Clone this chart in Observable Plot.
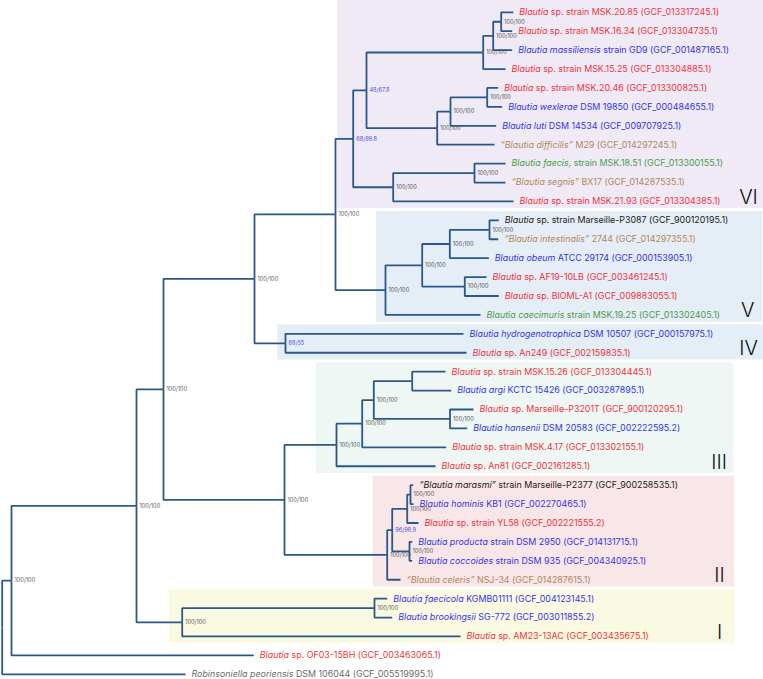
<!DOCTYPE html>
<html><head><meta charset="utf-8">
<script src="https://cdn.jsdelivr.net/npm/d3@7"></script>
<script src="https://cdn.jsdelivr.net/npm/@observablehq/plot@0.6"></script>
<style>body{margin:0;background:#fff}</style>
</head><body><div id="chart"></div>
<script>
// ---- internal nodes of the tree (depth = horizontal position along the tree) ----
const nodeIds     = ["root","K","J","I","H","G","F","C","A","A1",
                     "A2","B","B1","B2","E","D","Y","Z","AA","AB",
                     "AC","IVn","L","M","N","O","P","Q","R","S",
                     "T","Vn","U","W","X"];
const nodeParents = [null,"root","K","J","I","H","G","F","C","A",
                     "A1","C","B","B1","F","E","G","Y","Z","AA",
                     "Z","H","I","L","M","N","O","O","L","R",
                     "S","T","S","J","W"];
const nodeDepths  = [1.7,11,136,163,254,335,352.7,366,482.7,492.7,
                     500.7,436.7,450,486.7,392.7,474,385,421.7,449.3,489,
                     464.3,285,284,336,361.7,373.3,411.7,449.5,386.7,391.7,
                     406.7,410,409,181.7,374];
const nodeSupport = ["","100/100","100/100","100/100","100/100","100/100","68/99.8","48/67.8","100/100","100/100",
                     "100/100","100/100","100/100","100/100","100/100","100/100","100/100","100/100","100/100","100/100",
                     "100/100","68/55","100/100","100/100","100/100","100/100","","100/100","100/100","96/98.9",
                     "100/100","100/100","100/100","100/100","100/100"];

// ---- leaves (top to bottom) ----
const leafNames = [
  "*Blautia* sp. strain MSK.20.85 (GCF_013317245.1)",
  "*Blautia* sp. strain MSK.16.34 (GCF_013304735.1)",
  "*Blautia massiliensis* strain GD9 (GCF_001487165.1)",
  "*Blautia* sp. strain MSK.15.25 (GCF_013304885.1)",
  "*Blautia* sp. strain MSK.20.46 (GCF_013300825.1)",
  "*Blautia wexlerae* DSM 19850 (GCF_000484655.1)",
  "*Blautia luti* DSM 14534 (GCF_009707925.1)",
  "*“Blautia difficilis”* M29 (GCF_014297245.1)",
  "*Blautia faecis,* strain MSK.18.51 (GCF_013300155.1)",
  "*“Blautia segnis”* BX17 (GCF_014287535.1)",
  "*Blautia* sp. strain MSK.21.93 (GCF_013304385.1)",
  "*Blautia* sp. strain Marseille-P3087 (GCF_900120195.1)",
  "*“Blautia intestinalis”* 2744 (GCF_014297355.1)",
  "*Blautia obeum* ATCC 29174 (GCF_000153905.1)",
  "*Blautia* sp. AF19-10LB (GCF_003461245.1)",
  "*Blautia* sp. BIOML-A1 (GCF_009883055.1)",
  "*Blautia caecimuris* strain MSK.19.25 (GCF_013302405.1)",
  "*Blautia hydrogenotrophica* DSM 10507 (GCF_000157975.1)",
  "*Blautia* sp. An249 (GCF_002159835.1)",
  "*Blautia* sp. strain MSK.15.26 (GCF_013304445.1)",
  "*Blautia argi* KCTC 15426 (GCF_003287895.1)",
  "*Blautia* sp. Marseille-P3201T (GCF_900120295.1)",
  "*Blautia hansenii* DSM 20583 (GCF_002222595.2)",
  "*Blautia* sp. strain MSK.4.17 (GCF_013302155.1)",
  "*Blautia* sp. An81 (GCF_002161285.1)",
  "*“Blautia marasmi”* strain Marseille-P2377 (GCF_900258535.1)",
  "*Blautia hominis* KB1 (GCF_002270465.1)",
  "*Blautia* sp. strain YL58 (GCF_002221555.2)",
  "*Blautia producta* strain DSM 2950 (GCF_014131715.1)",
  "*Blautia coccoides* strain DSM 935 (GCF_004340925.1)",
  "*“Blautia celeris”* NSJ-34 (GCF_014287615.1)",
  "*Blautia faecicola* KGMB01111 (GCF_004123145.1)",
  "*Blautia brookingsii* SG-772 (GCF_003011855.2)",
  "*Blautia* sp. AM23-13AC (GCF_003435675.1)",
  "*Blautia* sp. OF03-15BH (GCF_003463065.1)",
  "*Robinsoniella peoriensis* DSM 106044 (GCF_005519995.1)"
];
const leafParents = ["A2","A2","A1","A","B2","B2","B1","B","D","D",
                     "E","AB","AB","AA","AC","AC","Y","IVn","IVn","P",
                     "P","Q","Q","N","M","Vn","Vn","T","U","U",
                     "R","X","X","W","K","root"];
const leafDepths  = [512.7,511.7,511.7,505,497.7,501.7,495.7,494,505,505,
                     513,498.3,497.7,488.3,486,498.3,480,463,466,445,
                     450.7,473,466.7,445.7,435,412.7,413,418,411.7,411.7,
                     400,386.7,391.7,460,253.3,185];
const leafKinds   = ["sp","sp","valid","sp","sp","valid","valid","proposed","other valid","proposed",
                     "sp","unnamed","proposed","valid","sp","sp","other valid","valid","sp","sp",
                     "valid","sp","valid","sp","sp","unnamed","valid","sp","valid","valid",
                     "proposed","valid","valid","sp","sp","outgroup"];

// ---- clades ----
const cladeNames = ["VI","V","IV","III","II","I"];
const cladeFirst = [0, 11, 17, 19, 25, 31];
const cladeLast  = [10, 16, 18, 24, 30, 33];
const cladeFrom  = [337, 376, 277.3, 315.7, 372.7, 169];
const cladeTo    = [763, 762.3, 763, 733.5, 734, 734];

const kindDomain = ["sp","valid","other valid","proposed","unnamed","outgroup","full","partial"];
const kindRange  = ["#f2333d","#3434ee","#4a9e4a","#b5865a","#222222","#6b6b6b","#555555","#4d4df0"];
const cladeTints = ["#efeaf5","#e5edf6","#e3eef6","#eef7f3","#f8e6e8","#fafae2"];

// ---- build table ----
const nodes = new Map();
nodeIds.forEach((id, i) => nodes.set(id, {id, parent: nodeParents[i], depth: nodeDepths[i], support: nodeSupport[i], children: []}));
const leaves = leafNames.map((name, i) => ({name, idx: i, parent: leafParents[i], depth: leafDepths[i], kind: leafKinds[i], y: i, children: []}));
for (const n of nodes.values()) if (n.parent) nodes.get(n.parent).children.push(n);
for (const l of leaves) nodes.get(l.parent).children.push(l);
function yOf(n) {
  if (n.y !== undefined) return n.y;
  const ys = n.children.map(yOf);
  n.y = (Math.min(...ys) + Math.max(...ys)) / 2;
  return n.y;
}
yOf(nodes.get("root"));
const edges = [];
for (const n of [...nodes.values(), ...leaves]) {
  if (!n.parent) continue;
  const p = nodes.get(n.parent);
  edges.push({x1: p.depth, y1: p.y, x2: n.depth, y2: n.y});
}
const supports = [...nodes.values()].filter(n => n.support).map(n => ({...n, cls: n.support === "100/100" ? "full" : "partial"}));
const clades = cladeNames.map((name, i) => ({name, y1: i === 0 ? cladeFirst[i] - 0.65 : cladeFirst[i] - 0.5, y2: cladeLast[i] + 0.5, last: cladeLast[i], x1: cladeFrom[i], x2: cladeTo[i]}));
const plain = s => s.replace(/\*/g, "");

const svg = Plot.plot({
  width: 763, height: 679,
  margin: 0,
  style: {background: "#ffffff", fontFamily: "Inter, 'Noto Sans', sans-serif"},
  x: {domain: [0, 763], range: [0, 763], axis: null},
  y: {domain: [0, 35], range: [11.8, 673.8], axis: null},
  color: {type: "ordinal", domain: [...kindDomain, ...cladeNames], range: [...kindRange, ...cladeTints]},
  marks: [
    Plot.rect(clades, {x1: "x1", x2: "x2", y1: "y1", y2: "y2", fill: "name", insetTop: 0.5, insetBottom: 2.2}),
    Plot.link(edges, {x1: "x1", y1: "y1", x2: "x2", y2: "y2", curve: "step-before", stroke: "#2c5889", strokeWidth: 1.8}),
    Plot.text(leaves, {x: "depth", y: "y", text: d => plain(d.name), fill: "kind", textAnchor: "start", dx: 6, fontSize: 8.9}),
    Plot.text(supports, {x: "depth", y: "y", text: "support", fill: "cls", textAnchor: "start", dx: 3, fontSize: 5.6}),
    Plot.text(clades, {x: "x2", y: "last", text: "name", dx: -15, dy: -4, fontSize: 20, fontWeight: 300, fill: "#111111", textAnchor: "middle"})
  ]
});

// mixed italic / roman runs in the leaf labels
const leafGroup = svg.querySelectorAll('g[aria-label="text"]')[0];
leafGroup.querySelectorAll("text").forEach((t, j) => {
  const parts = leaves[j].name.split("*");
  while (t.firstChild) t.removeChild(t.firstChild);
  parts.forEach((p, k) => {
    if (!p) return;
    const ts = document.createElementNS("http://www.w3.org/2000/svg", "tspan");
    if (k % 2 === 1) ts.setAttribute("font-style", "italic");
    ts.textContent = p;
    t.appendChild(ts);
  });
});
document.getElementById("chart").appendChild(svg);
</script>
</body></html>
